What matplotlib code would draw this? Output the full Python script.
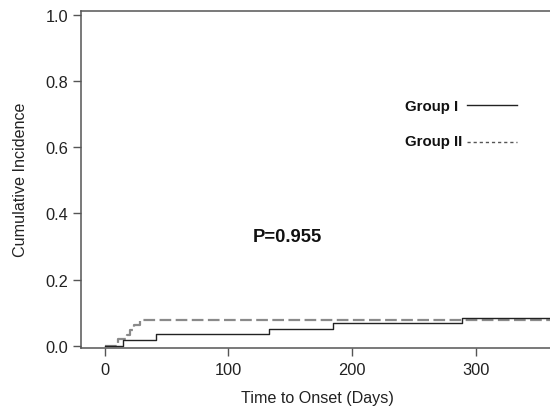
import matplotlib
matplotlib.use("Agg")
import matplotlib.pyplot as plt

plt.rcParams['font.family'] = ['Liberation Sans', 'DejaVu Sans']
plt.rcParams['lines.scale_dashes'] = False

# Data
group1_time = [0, 14.9, 42, 132.6, 185, 288.6, 365]
group1_ci = [0, 0.017, 0.035, 0.051, 0.068, 0.085, 0.085]
group2_time = [0, 11.3, 18, 20.5, 23.5, 29, 365]
group2_ci = [0, 0.02, 0.033, 0.046, 0.063, 0.078, 0.078]
x_ticks = [0, 100, 200, 300]
y_ticks = [0.0, 0.2, 0.4, 0.6, 0.8, 1.0]
legend_labels = ["Group I", "Group II"]
p_text = "P=0.955"

fig = plt.figure(figsize=(5.5, 4.1), dpi=100)
ax = fig.add_axes([81/550, 1-349/410, 1-81/550, (349-12)/410])

spine_c = '#555555'
ax.step(group2_time, group2_ci, where='post', color='#8a8a8a', lw=1.6,
        dashes=(8.4, 3.2))
ax.step(group1_time, group1_ci, where='post', color='#222222', lw=1.0)

ax.set_xlim(-19, 360)
ax.set_ylim(-0.007, 1.012)
ax.set_xticks(x_ticks)
ax.set_yticks(y_ticks)
ax.set_yticklabels([f"{v:.1f}" for v in y_ticks])
for s in ['left', 'bottom', 'top']:
    ax.spines[s].set_color(spine_c)
    ax.spines[s].set_linewidth(1.1)
ax.spines['right'].set_visible(False)
ax.tick_params(axis='both', direction='out', length=5.5, width=1.0,
               color=spine_c, labelsize=11.8, labelcolor='#222222')
ax.tick_params(axis='x', pad=4.5)
ax.tick_params(axis='y', pad=3.5)

ax.set_xlabel("Time to Onset (Days)", fontsize=11.6, color='#222222')
ax.set_ylabel("Cumulative Incidence", fontsize=11.6, color='#222222')
ax.xaxis.set_label_coords((317.5-81)/469, -(391-349)/337)
ax.yaxis.set_label_coords(-(81-28.5)/469, (349-180)/337)

# legend drawn manually in figure pixel coordinates
def fx(px):
    return px / 550
def fy(py):
    return 1 - py / 410

fig.text(fx(405), fy(107), legend_labels[0], fontsize=10.8, fontweight='bold',
         ha='left', va='center', color='#111111')
fig.text(fx(405), fy(142), legend_labels[1], fontsize=10.8, fontweight='bold',
         ha='left', va='center', color='#111111')
fig.add_artist(plt.Line2D([fx(467), fx(517)], [fy(106), fy(106)], color='#222222', lw=1.0))
fig.add_artist(plt.Line2D([fx(467), fx(517)], [fy(143), fy(143)], color='#555555', lw=1.0,
                          dashes=(2.3, 2.1)))

fig.text(fx(287), fy(238), p_text, fontsize=13.3, fontweight='bold',
         ha='center', va='center', color='#111111')

fig.savefig("out.png", dpi=100)
